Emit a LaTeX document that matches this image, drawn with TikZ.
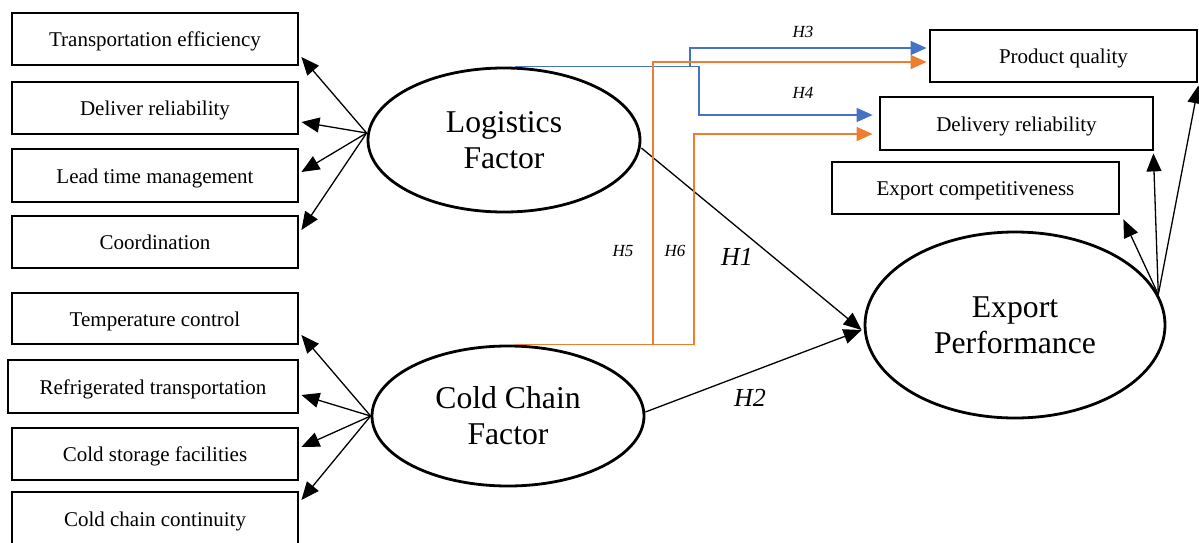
\documentclass[tikz,border=0pt]{standalone}
\usepackage{fontspec}
\setmainfont{Liberation Serif}
\usetikzlibrary{shapes.geometric,arrows.meta}
\definecolor{hblue}{HTML}{4472C4}
\definecolor{horange}{HTML}{ED7D31}
\tikzset{
  box/.style={draw,line width=2.8pt,rectangle,inner sep=0pt,minimum height=52pt,text height=17pt,text depth=2pt,font=\fontsize{21}{24}\selectfont},
  factor/.style={draw,line width=2.8pt,ellipse,inner sep=0pt,align=center,font=\fontsize{31.7}{36}\selectfont},
  arr/.style={line width=1.3pt,-{Triangle[length=18pt,width=15pt]}},
  bl/.style={hblue,line width=1.6pt,-{Triangle[length=16pt,width=14pt]}},
  ol/.style={horange,line width=1.6pt,-{Triangle[length=16pt,width=14pt]}},
  hbig/.style={font=\fontsize{26}{28}\selectfont\itshape},
  hsmall/.style={font=\fontsize{17}{19}\selectfont\itshape}
}
\begin{document}
\begin{tikzpicture}[x=1pt,y=-1pt]
\useasboundingbox (0,0) rectangle (1199,543);
\clip (0,0) rectangle (1199,543);
% left boxes
\node[box,minimum width=286pt] (b1) at (155,39) {Transportation efficiency};
\node[box,minimum width=286pt] (b2) at (155,108) {Deliver reliability};
\node[box,minimum width=286pt,minimum height=53pt] (b3) at (155,175.5) {Lead time management};
\node[box,minimum width=286pt] (b4) at (155,242) {Coordination};
\node[box,minimum width=286pt,minimum height=51pt] (b5) at (155,318.5) {Temperature control};
\node[box,minimum width=290pt,minimum height=53pt] (b6) at (153,386.5) {Refrigerated transportation};
\node[box,minimum width=286pt] (b7) at (155,454) {Cold storage facilities};
\node[box,minimum width=286pt,minimum height=53pt] (b8) at (155,518.5) {Cold chain continuity};
% right boxes
\node[box,minimum width=267pt] (pq) at (1063.5,56) {Product quality};
\node[box,minimum width=273pt,minimum height=53pt] (dr) at (1016.5,123.5) {Delivery reliability};
\node[box,minimum width=287pt] (ec) at (975.5,188) {Export competitiveness};
% ellipses
\node[factor,minimum width=272pt,minimum height=144pt] (L) at (504,140) {Logistics\\Factor};
\node[factor,minimum width=272pt,minimum height=140pt] (C) at (508,416) {Cold Chain\\Factor};
\node[factor,minimum width=300pt,minimum height=186pt] (E) at (1015,325) {Export\\Performance};
% indicator arrows
\coordinate (ls) at ([yshift=7pt]L.west);
\draw[arr] (ls) -- ([xshift=2pt,yshift=-18pt]b1.east);
\draw[arr] (ls) -- ([xshift=2pt,yshift=-14pt]b2.east);
\draw[arr] (ls) -- ([xshift=2pt,yshift=3.5pt]b3.east);
\draw[arr] (ls) -- ([xshift=2pt,yshift=12pt]b4.east);
\coordinate (cs) at (C.west);
\draw[arr] (cs) -- ([xshift=2pt,yshift=-16.5pt]b5.east);
\draw[arr] (cs) -- ([xshift=2pt,yshift=-8.5pt]b6.east);
\draw[arr] (cs) -- ([xshift=2pt,yshift=7pt]b7.east);
\draw[arr] (cs) -- ([xshift=2pt,yshift=18.5pt]b8.east);
% H1, H2
\coordinate (et) at ([xshift=-2pt,yshift=-5pt]E.west);
\draw[arr] ([yshift=-8pt]L.east) -- (et);
\draw[arr] ([yshift=4pt]C.east) -- (et);
\node[hbig] (h1) at (737,257) {H1};
\node[hbig] (h2) at (750,398) {H2};
% export performance arrows
\coordinate (es) at (E.12);
\draw[arr] (es) -- ([xshift=3pt,yshift=-4pt]ec.south east);
\draw[arr] (es) -- ([xshift=-1pt,yshift=-2pt]dr.south east);
\draw[arr] (es) -- ([yshift=-2pt]pq.south east);
% blue H3/H4
\coordinate (bs) at ([xshift=11pt]L.north);
\draw[bl] (bs) -- ++(184,0) |- ([xshift=-6pt,yshift=8.5pt]dr.west);
\draw[bl] ([xshift=175pt]bs) |- ([xshift=-2pt,yshift=8pt]pq.west);
% orange H5/H6
\coordinate (os) at ([xshift=7pt]C.north);
\draw[ol] (os) -- ++(138,0) |- ([xshift=-2pt,yshift=-6pt]pq.west);
\draw[ol] (os) -- ++(179,0) |- ([xshift=-6pt,yshift=-10.5pt]dr.west);
\node[hsmall] (h3) at (803,32) {H3};
\node[hsmall] (h4) at (803,93) {H4};
\node[hsmall] (h5) at (623,251) {H5};
\node[hsmall] (h6) at (675,251) {H6};
\end{tikzpicture}
\end{document}
